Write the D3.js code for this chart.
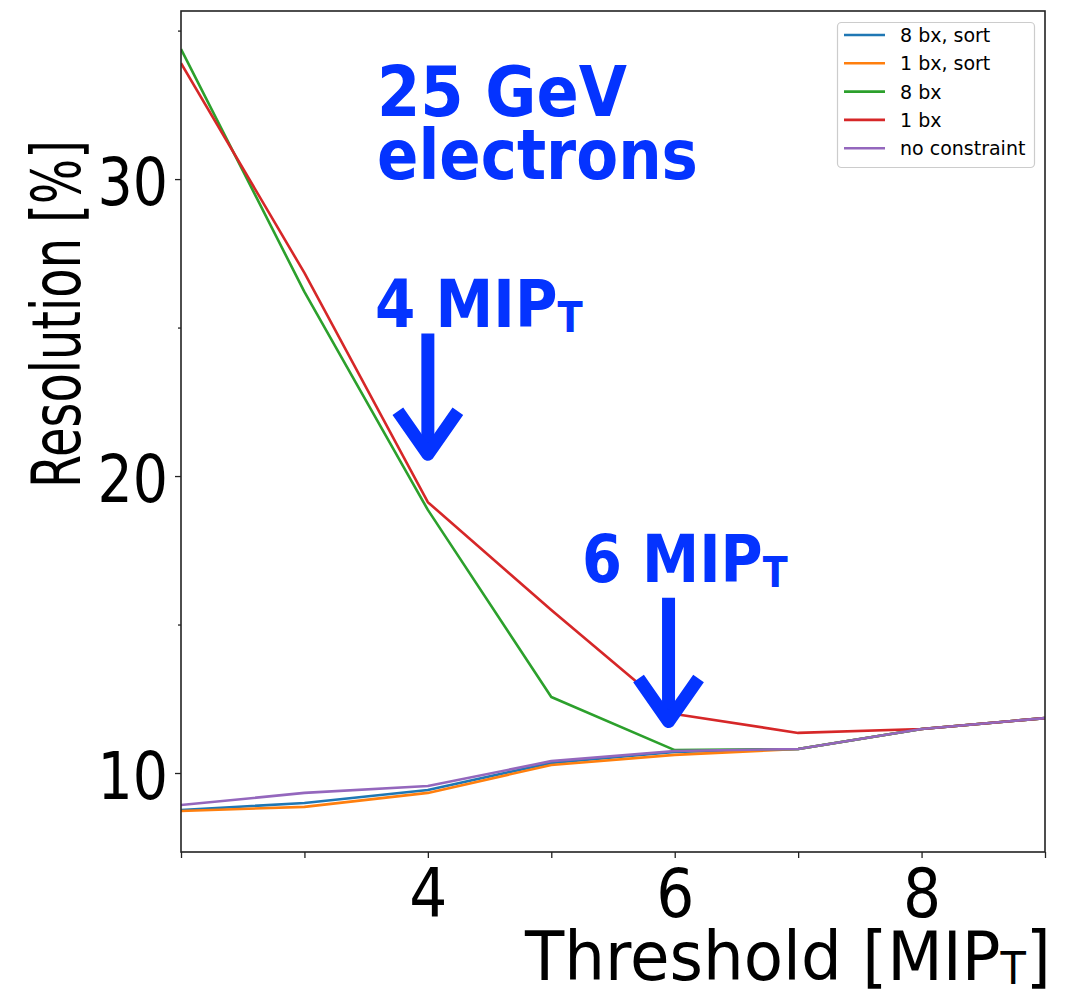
<!DOCTYPE html>
<html>
<head>
<meta charset="utf-8">
<script src="https://cdn.jsdelivr.net/npm/d3@7"></script>
<style>
  html, body { margin: 0; padding: 0; background: #fff; }
  svg { display: block; }
  text { font-family: "DejaVu Sans", sans-serif; }
</style>
</head>
<body>
<script>
// Energy resolution vs. readout threshold for 25 GeV electrons
const thresholds = [2, 3, 4, 5, 6, 7, 8, 9];

const bx8Sort = [8.75, 8.99, 9.43, 10.34, 10.71, 10.81, 11.48, 11.85];
const bx1Sort = [8.72, 8.86, 9.33, 10.27, 10.61, 10.81, 11.48, 11.85];
const bx8     = [34.38, 26.2, 18.86, 12.56, 10.77, 10.81, 11.48, 11.85];
const bx1     = [33.9, 26.84, 19.12, 15.49, 11.99, 11.35, 11.48, 11.85];
const noConstraint = [8.92, 9.33, 9.56, 10.4, 10.74, 10.81, 11.48, 11.85];

const seriesNames  = ["8 bx, sort", "1 bx, sort", "8 bx", "1 bx", "no constraint"];
const seriesValues = [bx8Sort, bx1Sort, bx8, bx1, noConstraint];
const seriesColors = ["#1f77b4", "#ff7f0e", "#2ca02c", "#d62728", "#9467bd"];

const xMajorTicks = [4, 6, 8];
const xAllTicks   = [2, 3, 4, 5, 6, 7, 8, 9];
const yMajorTicks = [10, 20, 30];
const yMinorTicks = [15, 25, 35];

// Threshold callouts: label and arrow (top -> tip) in data units
const callouts = [
  { label: "4 MIP", sub: "T", x: 4.0, yTop: 24.8, yTip: 20.6 },
  { label: "6 MIP", sub: "T", x: 5.95, yTop: 15.9, yTip: 11.6 }
];

const W = 1079, H = 992;
const plot = { left: 181, right: 1045, top: 11, bottom: 852 };
const blue = "#0433ff";

const svg = d3.select("body").append("svg").attr("width", W).attr("height", H);

const x = d3.scaleLinear().domain([2, 9]).range([plot.left, plot.right]);
const y = d3.scaleLinear().domain([7.34, 35.66]).range([plot.bottom, plot.top]);

// squeeze a text node horizontally so it spans the given width
function fitWidth(node, width) {
  const w = node.getBBox().width;
  return width / w;
}

// ---- axes ----
const yAxisMinor = svg.append("g")
  .attr("transform", `translate(${plot.left},0)`)
  .call(d3.axisLeft(y).tickValues(yMinorTicks).tickSize(3).tickFormat(""));
const yAxis = svg.append("g")
  .attr("transform", `translate(${plot.left},0)`)
  .call(d3.axisLeft(y).tickValues(yMajorTicks).tickSize(6).tickPadding(13));
const xAxis = svg.append("g")
  .attr("transform", `translate(0,${plot.bottom})`)
  .call(d3.axisBottom(x).tickValues(xAllTicks).tickSize(6)
    .tickFormat(d => xMajorTicks.includes(d) ? d : ""));

[yAxisMinor, yAxis, xAxis].forEach(g => {
  g.select(".domain").remove();
  g.selectAll(".tick line").attr("stroke", "#222").attr("stroke-width", 1.3);
});

const ySx = 0.84;
yAxis.selectAll(".tick text")
  .attr("font-size", 66).attr("fill", "#000")
  .attr("x", -13 / ySx).attr("dy", "0.39em")
  .attr("transform", `scale(${ySx},1)`);

const xSx = 0.88;
xAxis.selectAll(".tick text")
  .attr("font-size", 68).attr("fill", "#000")
  .attr("y", 0).attr("dy", 65)
  .attr("transform", `scale(${xSx},1)`);

// ---- series lines ----
const line = d3.line()
  .x((d, i) => x(thresholds[i]))
  .y(d => y(d));

const clip = svg.append("clipPath").attr("id", "plotclip")
  .append("rect")
  .attr("x", plot.left).attr("y", plot.top)
  .attr("width", plot.right - plot.left).attr("height", plot.bottom - plot.top);

svg.append("g").attr("clip-path", "url(#plotclip)")
  .selectAll("path")
  .data(seriesValues)
  .join("path")
  .attr("d", d => line(d))
  .attr("fill", "none")
  .attr("stroke", (d, i) => seriesColors[i])
  .attr("stroke-width", 2.6)
  .attr("stroke-linejoin", "round");

// ---- frame ----
svg.append("rect")
  .attr("x", plot.left).attr("y", plot.top)
  .attr("width", plot.right - plot.left).attr("height", plot.bottom - plot.top)
  .attr("fill", "none").attr("stroke", "#222").attr("stroke-width", 1.6);

// ---- axis titles ----
const xTitle = svg.append("text")
  .attr("font-size", 68).attr("fill", "#000");
xTitle.append("tspan").text("Threshold [MIP");
xTitle.append("tspan").attr("font-size", 44).attr("dy", 4).text("T");
xTitle.append("tspan").attr("dy", -4).text("]");
xTitle.attr("transform", `translate(525,980) scale(${fitWidth(xTitle.node(), 527)},1)`);

const yTitle = svg.append("text")
  .attr("font-size", 68).attr("fill", "#000")
  .text("Resolution [%]");
yTitle.attr("transform", `translate(80,488) rotate(-90) scale(${fitWidth(yTitle.node(), 348)},1)`);

// ---- legend ----
const legend = svg.append("g");
legend.append("rect")
  .attr("x", 837.5).attr("y", 22.5).attr("width", 197).attr("height", 145)
  .attr("rx", 4).attr("fill", "#fff").attr("fill-opacity", 0.8)
  .attr("stroke", "#cccccc").attr("stroke-width", 1.2);
seriesNames.forEach((name, i) => {
  const cy = 35 + i * 28.3;
  legend.append("line")
    .attr("x1", 844).attr("x2", 885).attr("y1", cy).attr("y2", cy)
    .attr("stroke", seriesColors[i]).attr("stroke-width", 2.6);
  legend.append("text")
    .attr("x", 900).attr("y", cy + 7)
    .attr("font-size", 19).attr("fill", "#000")
    .text(name);
});

// ---- annotations ----
const title1 = svg.append("text")
  .attr("font-size", 70).attr("font-weight", "bold").attr("fill", blue)
  .text("25 GeV");
title1.attr("transform", `translate(377,116) scale(${fitWidth(title1.node(), 250)},1)`);
const title2 = svg.append("text")
  .attr("font-size", 70).attr("font-weight", "bold").attr("fill", blue)
  .text("electrons");
title2.attr("transform", `translate(377,179) scale(${fitWidth(title2.node(), 321)},1)`);

const calloutText = [
  { left: 375, base: 327, width: 208 },
  { left: 582, base: 582, width: 206 }
];
callouts.forEach((c, i) => {
  const t = svg.append("text")
    .attr("font-size", 66).attr("font-weight", "bold").attr("fill", blue);
  t.append("tspan").text(c.label);
  t.append("tspan").attr("font-size", 42).attr("dy", 5).text(c.sub);
  const p = calloutText[i];
  t.attr("transform", `translate(${p.left},${p.base}) scale(${fitWidth(t.node(), p.width)},1)`);

  const ax = x(c.x), top = y(c.yTop), tip = y(c.yTip);
  svg.append("line")
    .attr("x1", ax).attr("x2", ax).attr("y1", top).attr("y2", tip - 6)
    .attr("stroke", blue).attr("stroke-width", 13);
  svg.append("path")
    .attr("d", `M${ax - 30},${tip - 47} L${ax},${tip - 4} L${ax + 30},${tip - 47}`)
    .attr("fill", "none").attr("stroke", blue).attr("stroke-width", 13)
    .attr("stroke-linejoin", "round");
});
</script>
</body>
</html>
